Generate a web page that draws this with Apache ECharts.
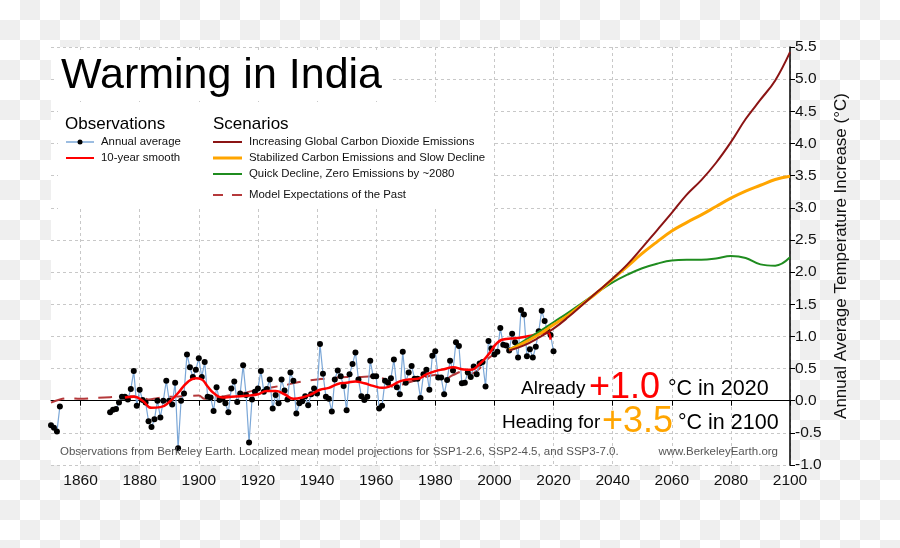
<!DOCTYPE html>
<html><head><meta charset="utf-8">
<script src="https://cdn.jsdelivr.net/npm/echarts@6/dist/echarts.min.js"></script>
<style>
html,body{margin:0;padding:0;}
body{width:900px;height:548px;background:repeating-conic-gradient(#efefef 0 25%, #fff 0 50%) 0 0/40px 40px;}
#c{width:900px;height:548px;}
</style></head><body><div id="c"></div>
<script>
// ---- data ----
const obsStartYear = 1850;
const obsValues = [
  -0.38,-0.42,-0.48,-0.09,
  null,null,null,null,null,null,null,null,null,null,null,null,null,null,null,null,
  -0.18,-0.14,-0.13,-0.03,0.06,0.06,0.02,0.18,0.46,-0.08,
  0.17,0.01,-0.03,-0.32,-0.41,-0.29,0.00,-0.26,0.00,0.31,
  0.00,-0.06,0.28,-0.74,0.00,0.11,0.72,0.52,0.37,0.48,
  0.66,0.37,0.60,0.06,0.05,-0.16,0.21,0.01,0.03,-0.04,
  -0.18,0.19,0.30,-0.02,0.11,0.55,0.09,-0.65,0.02,0.14,
  0.19,0.46,0.14,0.18,0.33,-0.12,0.09,-0.04,0.33,0.16,
  0.02,0.44,0.31,-0.20,-0.04,-0.01,0.07,-0.07,0.10,0.19,
  0.11,0.88,0.42,0.06,0.03,-0.17,0.33,0.47,0.38,0.23,
  -0.15,0.41,0.57,0.75,0.33,0.07,0.01,0.06,0.62,0.38,
  0.38,-0.12,-0.08,0.31,0.28,0.35,0.64,0.21,0.10,0.76,
  0.28,0.44,0.54,0.34,0.34,0.04,0.41,0.48,0.17,0.70,
  0.77,0.36,0.36,0.10,0.32,0.62,0.47,0.91,0.85,0.27,
  0.28,0.44,0.37,0.53,0.41,0.58,0.60,0.22,0.93,0.81,
  0.72,0.76,1.13,0.87,0.86,0.78,1.04,0.91,0.67,1.41,
  1.34,0.69,0.80,0.67,0.84,1.08,1.40,1.24,1.08,1.02,0.77
];
const smoothYears = [1875,1878,1881,1884,1887,1890,1893,1896,1899,1901,1903,1905,1908,1911,1914,1917,1920,1923,1926,1929,1932,1935,1938,1941,1944,1947,1950,1953,1956,1959,1962,1965,1968,1971,1974,1977,1980,1983,1986,1989,1992,1995,1998,2001,2004,2007,2010,2013,2016,2018,2019];
const smoothValues = [0.05,0.06,0.00,-0.11,-0.10,-0.02,0.12,0.28,0.35,0.33,0.22,0.12,0.05,0.06,0.07,0.08,0.10,0.15,0.15,0.10,0.03,0.05,0.10,0.17,0.20,0.26,0.28,0.30,0.27,0.23,0.20,0.23,0.30,0.33,0.34,0.41,0.46,0.49,0.52,0.49,0.48,0.57,0.72,0.90,0.96,0.97,0.99,1.02,1.05,1.06,0.95];
const modelYears = [1850,1853,1856,1860,1864,1868,1872,1876,1880,1883,1886,1890,1895,1900,1902,1905,1910,1915,1920,1925,1930,1935,1940,1945,1950,1955,1960,1963,1966,1970,1975,1980,1983,1986,1990,1992,1995,1998,2001,2003];
const modelValues = [-0.03,0.02,0.04,0.03,0.04,0.05,0.06,0.07,0.07,0.02,0.04,0.06,0.07,0.08,0.03,0.04,0.08,0.12,0.17,0.21,0.25,0.30,0.33,0.35,0.37,0.37,0.38,0.33,0.21,0.27,0.34,0.40,0.33,0.40,0.46,0.42,0.50,0.66,0.75,0.79];
const scenarioYears = [2005,2010,2015,2020,2025,2030,2035,2040,2045,2050,2055,2060,2065,2070,2075,2080,2085,2090,2095,2100];
const ssp370 = [0.78,0.86,0.98,1.12,1.30,1.50,1.70,1.90,2.12,2.38,2.65,2.92,3.20,3.43,3.70,4.02,4.38,4.68,4.98,5.42];
const ssp245 = [0.79,0.90,1.03,1.18,1.33,1.51,1.69,1.89,2.09,2.29,2.47,2.64,2.77,2.89,3.02,3.15,3.26,3.35,3.44,3.49];
const ssp126 = [0.79,0.93,1.07,1.22,1.37,1.53,1.69,1.84,1.96,2.06,2.13,2.18,2.19,2.19,2.21,2.25,2.22,2.12,2.10,2.23];
const xTickLabels = [1860,1880,1900,1920,1940,1960,1980,2000,2020,2040,2060,2080,2100];

// ---- chart ----
const FONT = 'Liberation Sans, Arial, Helvetica, sans-serif';
const pairs = (xs, ys) => xs.map((x, i) => [x, ys[i]]);
const obsData = obsValues.map((v, i) => [obsStartYear + i, v]);

const chart = echarts.init(document.getElementById('c'), null, {renderer: 'canvas'});
const legendX1 = 66, legendX2 = 213;
function txt(x, y, s, size, color, align) {
  const a = align || 'left';
  return {type: 'text', z: 101, style: {x: x, y: y, text: s, font: size + 'px ' + FONT, fill: color || '#111', align: a, verticalAlign: 'middle', textAlign: a, textVerticalAlign: 'middle'}};
}
function seg(x1, x2, y, color, w, dash) {
  return {type: 'line', z: 101, shape: {x1: x1, y1: y, x2: x2, y2: y}, style: {stroke: color, lineWidth: w, lineDash: dash || null}};
}
chart.setOption({
  animation: false,
  backgroundColor: 'transparent',
  textStyle: {fontFamily: FONT},
  grid: {left: 51, right: 110, top: 47, bottom: 83, show: true, backgroundColor: '#fff', borderWidth: 0, containLabel: false},
  xAxis: {
    type: 'value', min: 1850, max: 2100,
    axisLine: {show: true, lineStyle: {color: '#000', width: 1}},
    axisTick: {show: true, customValues: xTickLabels, length: 5, lineStyle: {color: '#000'}},
    axisLabel: {customValues: xTickLabels, fontSize: 15.5, color: '#111', margin: 8, fontFamily: FONT, formatter: v => String(v)},
    splitLine: {show: true, lineStyle: {color: '#c8c8c8', type: [3, 3], width: 1}}
  },
  yAxis: {
    type: 'value', position: 'right', min: -1, max: 5.5, interval: 0.5,
    name: 'Annual Average Temperature Increase (°C)', nameLocation: 'middle', nameGap: 41,
    nameTextStyle: {fontSize: 17, color: '#111', fontFamily: FONT},
    axisLine: {show: true, lineStyle: {color: '#000', width: 1.5}},
    axisTick: {show: true, length: 5, lineStyle: {color: '#000'}},
    axisLabel: {fontSize: 15.5, color: '#111', margin: 5, fontFamily: FONT, formatter: v => v.toFixed(1)},
    splitLine: {show: true, lineStyle: {color: '#c8c8c8', type: [3, 3], width: 1}}
  },
  series: [
    {type: 'line', name: 'Model Expectations of the Past', data: pairs(modelYears, modelValues), smooth: 0.4, showSymbol: false,
     lineStyle: {color: '#b5393b', width: 2, type: [14, 10]}, z: 2},
    {type: 'line', name: 'Annual average', data: obsData, connectNulls: false, symbol: 'circle', symbolSize: 6, showAllSymbol: true,
     itemStyle: {color: '#000'}, lineStyle: {color: '#7ba7d7', width: 1.2}, z: 3},
    {type: 'line', name: '10-year smooth', data: pairs(smoothYears, smoothValues), smooth: 0.5, showSymbol: false,
     lineStyle: {color: '#ff0000', width: 2.5}, z: 4},
    {type: 'line', name: 'SSP1-2.6', data: pairs(scenarioYears, ssp126), smooth: 0.4, showSymbol: false,
     lineStyle: {color: '#1f8c1f', width: 2}, z: 5},
    {type: 'line', name: 'SSP2-4.5', data: pairs(scenarioYears, ssp245), smooth: 0.4, showSymbol: false,
     lineStyle: {color: '#ffa500', width: 3}, z: 6},
    {type: 'line', name: 'SSP3-7.0', data: pairs(scenarioYears, ssp370), smooth: 0.4, showSymbol: false,
     lineStyle: {color: '#8b1414', width: 2}, z: 7}
  ],
  graphic: [
    {type: 'rect', z: 100, shape: {x: 56, y: 52, width: 336, height: 46}, style: {fill: '#fff'}},
    txt(61, 76, 'Warming in India', 43, '#000'),
    {type: 'rect', z: 100, shape: {x: 58, y: 102, width: 434, height: 107}, style: {fill: '#fff'}},
    txt(legendX1 - 1, 124, 'Observations', 17, '#000'),
    seg(legendX1, legendX1 + 28, 142, '#7ba7d7', 1.5),
    {type: 'circle', z: 102, shape: {cx: legendX1 + 14, cy: 142, r: 2.5}, style: {fill: '#000'}},
    txt(legendX1 + 35, 142, 'Annual average', 11.4),
    seg(legendX1, legendX1 + 28, 158, '#ff0000', 2),
    txt(legendX1 + 35, 158, '10-year smooth', 11.4),
    txt(legendX2, 124, 'Scenarios', 17, '#000'),
    seg(legendX2, legendX2 + 29, 142, '#8b1414', 2),
    txt(legendX2 + 36, 142, 'Increasing Global Carbon Dioxide Emissions', 11.4),
    seg(legendX2, legendX2 + 29, 158, '#ffa500', 3),
    txt(legendX2 + 36, 158, 'Stabilized Carbon Emissions and Slow Decline', 11.4),
    seg(legendX2, legendX2 + 29, 174, '#1f8c1f', 2),
    txt(legendX2 + 36, 174, 'Quick Decline, Zero Emissions by ~2080', 11.4),
    seg(legendX2, legendX2 + 29, 195, '#b5393b', 2, [10, 9]),
    txt(legendX2 + 36, 195, 'Model Expectations of the Past', 11.4),
    txt(60, 452, 'Observations from Berkeley Earth. Localized mean model projections for SSP1-2.6, SSP2-4.5, and SSP3-7.0.', 11.5, '#555'),
    txt(778, 452, 'www.BerkeleyEarth.org', 11.5, '#555', 'right'),
    txt(521, 389, 'Already', 19, '#000'),
    txt(589, 388, '+1.0', 36, '#ff0000'),
    txt(668, 389, '°C in 2020', 21.5, '#000'),
    txt(502, 423, 'Heading for', 19, '#000'),
    txt(602, 422, '+3.5', 36, '#ffa500'),
    txt(678, 423, '°C in 2100', 21.5, '#000')
  ]
});
</script></body></html>
